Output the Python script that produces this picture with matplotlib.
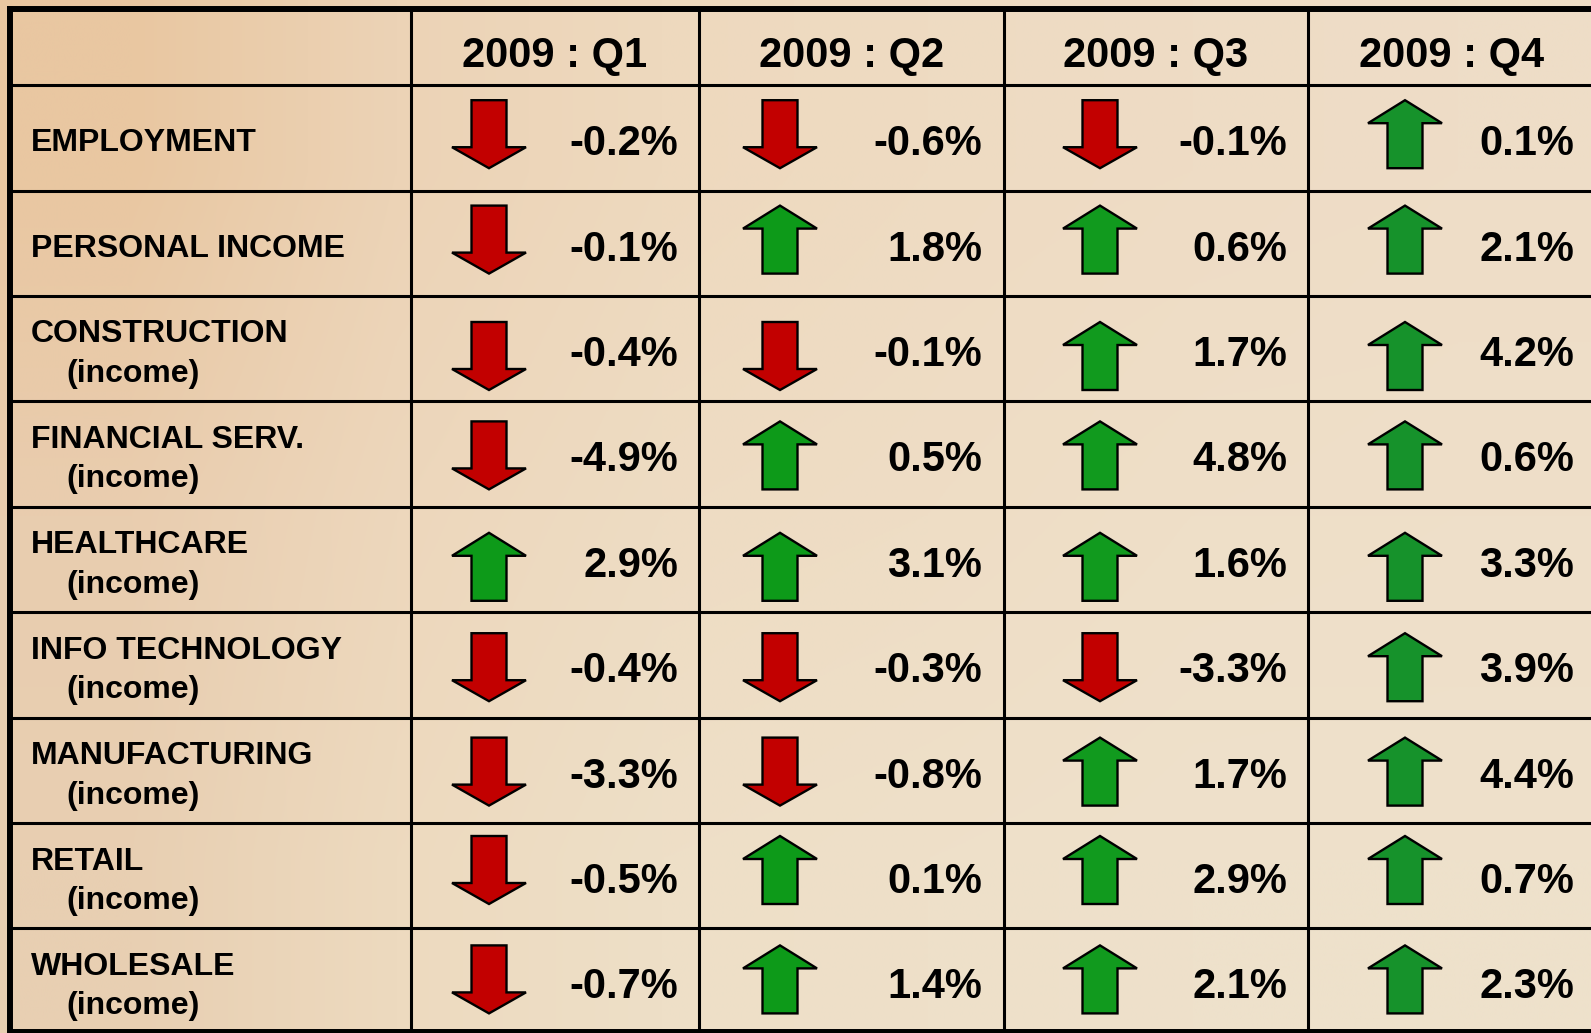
import numpy as np
import matplotlib.pyplot as plt
from matplotlib.patches import Polygon
from matplotlib.colors import to_rgb

plt.rcParams['font.family'] = ['Liberation Sans', 'DejaVu Sans']

# table data
quarters = ["2009 : Q1", "2009 : Q2", "2009 : Q3", "2009 : Q4"]
sectors = ["EMPLOYMENT", "PERSONAL INCOME", "CONSTRUCTION", "FINANCIAL SERV.",
           "HEALTHCARE", "INFO TECHNOLOGY", "MANUFACTURING", "RETAIL", "WHOLESALE"]
subtitles = ["", "", "(income)", "(income)", "(income)", "(income)",
             "(income)", "(income)", "(income)"]
q1 = [-0.2, -0.1, -0.4, -4.9, 2.9, -0.4, -3.3, -0.5, -0.7]
q2 = [-0.6, 1.8, -0.1, 0.5, 3.1, -0.3, -0.8, 0.1, 1.4]
q3 = [-0.1, 0.6, 1.7, 4.8, 1.6, -3.3, 1.7, 2.9, 2.1]
q4 = [0.1, 2.1, 4.2, 0.6, 3.3, 3.9, 4.4, 0.7, 2.3]
values = [q1, q2, q3, q4]

# layout in pixels (y goes down)
W, H = 1591, 1033
col_edges = [10, 411, 699, 1004, 1308, 1595]
header_top = 9
row_top0 = 85.2
row_h = 105.4
arrow_x = [489, 780, 1100, 1405]
value_right = [678, 982, 1287, 1574]
arrow_dy = [49, 49, 60, 54, 60, 55, 54, 47, 51]
up_colors = ['#0d9a19', '#0d9a19', '#119a1e', '#16922b']
down_color = '#c20000'

fig = plt.figure(figsize=(W / 100, H / 100), dpi=100)
ax = fig.add_axes([0, 0, 1, 1])
ax.set_xlim(0, W)
ax.set_ylim(H, 0)
ax.axis('off')

# parchment background as a smooth gradient
bg = [["#e9c7a1", "#ecd3b6", "#eed9be", "#eedbc2", "#eedcc5", "#eeddc7"],
      ["#e9cdaf", "#edd7bc", "#eedcc3", "#eeddc5", "#efdfc8", "#efdfc9"],
      ["#e8cfb2", "#eddabf", "#eedfc7", "#eee0c9", "#eee1cb", "#eee1cb"]]
bg_img = np.array([[to_rgb(c) for c in r] for r in bg])
ax.imshow(bg_img, extent=(0, W, H, 0), aspect='auto', interpolation='bilinear', zorder=0)


def arrow(cx, cy, up, color):
    if up:
        pts = [(0, -34), (37, -11), (17.5, -11), (17.5, 34), (-17.5, 34), (-17.5, -11), (-37, -11)]
    else:
        pts = [(0, 34), (37, 13), (17.5, 13), (17.5, -34), (-17.5, -34), (-17.5, 13), (-37, 13)]
    poly = Polygon([(cx + dx, cy + dy) for dx, dy in pts], closed=True, fc=color,
                   ec='black', lw=1.7, joinstyle='miter', zorder=3)
    ax.add_patch(poly)


# header
for j, q in enumerate(quarters):
    cx = (col_edges[j + 1] + col_edges[j + 2]) / 2
    ax.text(cx, header_top + 58, q, ha='center', va='baseline', fontsize=30,
            fontweight='bold', color='black', zorder=4)

# rows
for i, name in enumerate(sectors):
    top = row_top0 + i * row_h
    if subtitles[i]:
        ax.text(31, top + 46.5, name, ha='left', va='baseline', fontsize=23,
                fontweight='bold', zorder=4)
        ax.text(66, top + 86, subtitles[i], ha='left', va='baseline', fontsize=23,
                fontweight='bold', zorder=4)
    else:
        ax.text(31, top + 66, name, ha='left', va='baseline', fontsize=23,
                fontweight='bold', zorder=4)
    for j in range(4):
        v = values[j][i]
        up = v > 0
        arrow(arrow_x[j], top + arrow_dy[i], up, up_colors[j] if up else down_color)
        ax.text(value_right[j], top + 70, f"{v:.1f}%", ha='right', va='baseline',
                fontsize=30, fontweight='bold', zorder=4)

# grid lines
inner_lw = 2.2
outer_lw = 4.3
for k in range(1, 10):
    y = row_top0 + (k - 1) * row_h
    ax.plot([col_edges[0], W], [y, y], color='black', lw=inner_lw, zorder=5,
            solid_capstyle='butt')
for x in col_edges[1:5]:
    ax.plot([x, x], [header_top, H], color='black', lw=inner_lw, zorder=5,
            solid_capstyle='butt')
ax.plot([col_edges[0] - 3, W], [header_top, header_top], color='black', lw=outer_lw,
        zorder=6, solid_capstyle='butt')
ax.plot([col_edges[0], col_edges[0]], [header_top - 3, H], color='black', lw=outer_lw,
        zorder=6, solid_capstyle='butt')
ax.plot([col_edges[0], W], [H - 1, H - 1], color='black', lw=outer_lw, zorder=6,
        solid_capstyle='butt')

fig.savefig('out.png', dpi=100)
